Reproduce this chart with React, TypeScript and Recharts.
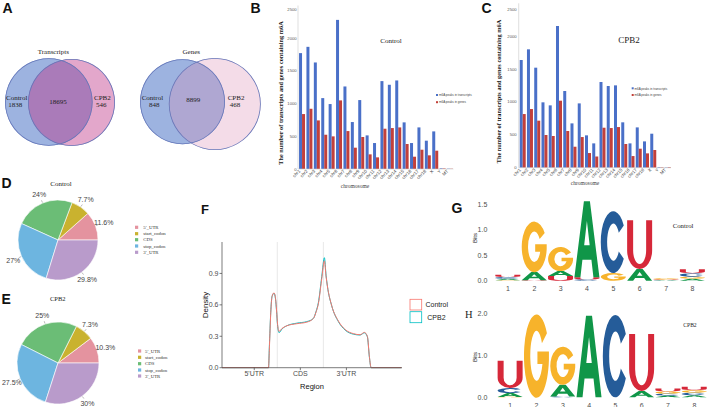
import React from "react";
import {
  Bar,
  BarChart,
  Cell,
  Line,
  LineChart,
  Pie,
  PieChart,
  ReferenceLine,
  XAxis,
  YAxis,
} from "recharts";

const SERIF = "'Liberation Serif','Times New Roman',serif";
const SANS = "'Liberation Sans',Arial,sans-serif";

// --- A: venn counts (control only, shared, CPB2 only)
const transcriptCounts = [1838, 18695, 546];
const geneCounts = [848, 8899, 468];

// --- B / C: m6A peaks per chromosome
const chromosomes = [
  "chr1", "chr2", "chr3", "chr4", "chr5", "chr6", "chr7", "chr8", "chr9", "chr10",
  "chr11", "chr12", "chr13", "chr14", "chr15", "chr16", "chr17", "chr18", "X", "Y", "MT",
];
const controlTranscripts = [1772, 1868, 1629, 1084, 993, 2280, 1262, 718, 1054, 514, 397, 1344, 1288, 1354, 713, 397, 636, 433, 575, 10, 5];
const controlGenes = [840, 921, 743, 524, 499, 1049, 580, 326, 489, 224, 178, 616, 626, 636, 382, 188, 295, 209, 280, 8, 4];
const cpb2Transcripts = [1638, 1800, 1521, 994, 948, 2155, 1166, 674, 978, 492, 370, 1303, 1242, 1252, 690, 370, 613, 400, 517, 10, 6];
const cpb2Genes = [816, 892, 715, 497, 482, 1019, 558, 319, 466, 223, 172, 608, 603, 618, 360, 177, 289, 218, 269, 8, 10];
const peakTicks = [0, 500, 1000, 1500, 2000, 2500];

// --- D / E: peak distribution over transcript regions (%)
const regions = ["5'_UTR", "start_codon", "CDS", "stop_codon", "3'_UTR"];
const regionColors = ["#E4939F", "#C9B22F", "#6BBD76", "#6DB5E0", "#B99BCB"];
const controlRegionPct = [11.6, 7.7, 24, 27, 29.8];
const cpb2RegionPct = [10.3, 7.3, 25, 27.5, 30];

// --- F: metagene density
const metaX = [-0.2, 0.81, 0.827, 0.858, 0.886, 0.929, 0.962, 0.984, 1.005, 1.038, 1.103, 1.205, 1.422, 1.64, 1.783, 1.84, 1.891, 1.965, 2.022, 2.059, 2.087, 2.182, 2.326, 2.471, 2.652, 2.797, 2.89, 2.955, 2.999, 3.036, 3.7];
const controlDensity = [0, 0, 0.17, 0.52, 0.68, 0.715, 0.66, 0.55, 0.42, 0.347, 0.375, 0.4, 0.42, 0.435, 0.47, 0.53, 0.61, 0.85, 1.02, 0.87, 0.78, 0.59, 0.445, 0.365, 0.325, 0.315, 0.337, 0.3, 0.106, 0, 0];
const cpb2Density = [0, 0, 0.19, 0.53, 0.68, 0.71, 0.655, 0.54, 0.41, 0.335, 0.37, 0.4, 0.425, 0.44, 0.47, 0.535, 0.62, 0.87, 1.05, 0.88, 0.78, 0.59, 0.44, 0.36, 0.32, 0.312, 0.333, 0.295, 0.1, 0, 0];
const regionTicks = [0.5, 1.5, 2.5];
const regionTickLabels = ["5'UTR", "CDS", "3'UTR"];
const densityTicks = [0, 0.3, 0.6, 0.9];

// --- G / H: motif logos (bits per letter)
const logoPositions = ["1", "2", "3", "4", "5", "6", "7", "8"];
const controlA = [0.03, 0.16, 0.1, 1.49, 0, 0.23, 0.01, 0.04];
const controlC = [0.03, 0, 0, 0.026, 1.21, 0, 0.005, 0.065];
const controlG = [0.01, 0.99, 0.47, 0, 0.15, 0, 0.025, 0.04];
const controlU = [0.045, 0.01, 0.09, 0.04, 0, 0.95, 0.01, 0.08];
const cpb2A = [0.09, 0, 0.28, 1.94, 0, 0.15, 0.04, 0.05];
const cpb2C = [0.12, 0, 0.02, 0, 1.96, 0, 0.05, 0.06];
const cpb2G = [0.01, 1.98, 0.91, 0, 0, 0, 0.05, 0.06];
const cpb2U = [0.65, 0, 0, 0, 0, 1.36, 0.07, 0.08];

const BLUE = "#4A70C8";
const RED = "#C2403B";
const CTRL_COL = "#F8766D";
const CPB2_COL = "#00BFC4";
const LOGO_COLORS: Record<string, string> = { A: "#109648", C: "#255C99", G: "#F7B32B", U: "#D62839" };

// letter outlines in a 100x100 box, stretched into each stacked bar
const GLYPHS: Record<string, string> = {
  A: "M0,100 L38,0 L62,0 L100,100 L76,100 L68,77 L32,77 L24,100 Z M39,58 L61,58 L50,26 Z",
  C: "M92,23 A50,50 0 1 0 92,77 L72,65 A25,30 0 1 1 72,35 Z",
  G: "M92,23 A50,50 0 1 0 100,55 L100,45 L54,45 L54,60 L74,60 A25,30 0 1 1 72,35 Z",
  U: "M0,0 L24,0 L24,62 A26,28 0 0 0 76,62 L76,0 L100,0 L100,62 A50,38 0 0 1 0,62 Z",
};

function T({ x, y, s, f = SERIF, a = "start", c = "#222", w = "normal", rot, children }: any) {
  return (
    <text
      x={x}
      y={y}
      fontSize={s}
      fontFamily={f}
      textAnchor={a}
      fill={c}
      fontWeight={w}
      transform={rot != null ? `rotate(${rot} ${x} ${y})` : undefined}
    >
      {children}
    </text>
  );
}

function Venn() {
  const fills = [
    { cx: 48.8, cy: 102, r: 43.8, v: transcriptCounts[0] + transcriptCounts[1], fill: "#9DB3E0", op: 1 },
    { cx: 71.5, cy: 102.5, r: 43.5, v: transcriptCounts[1] + transcriptCounts[2], fill: "#BC2D83", op: 0.42 },
    { cx: 182.5, cy: 101.8, r: 42.5, v: geneCounts[0] + geneCounts[1], fill: "#9DB3E0", op: 1 },
    { cx: 214.8, cy: 104, r: 46, v: geneCounts[1] + geneCounts[2], fill: "#DA8AB2", op: 0.3 },
  ];
  return (
    <PieChart width={270} height={160} margin={{ top: 0, right: 0, bottom: 0, left: 0 }}>
      {fills.map((c, i) => (
        <Pie key={`f${i}`} data={[{ value: c.v }]} dataKey="value" cx={c.cx} cy={c.cy} outerRadius={c.r}
          startAngle={90} endAngle={450} stroke="none" isAnimationActive={false}>
          <Cell fill={c.fill} fillOpacity={c.op} stroke="none" />
        </Pie>
      ))}
      {fills.map((c, i) => (
        <Pie key={`o${i}`} data={[{ value: c.v }]} dataKey="value" cx={c.cx} cy={c.cy} outerRadius={c.r}
          innerRadius={c.r - 0.8} startAngle={90} endAngle={450} stroke="none" isAnimationActive={false}>
          <Cell fill="#6577B9" stroke="none" />
        </Pie>
      ))}
    </PieChart>
  );
}

function ChromChart({ tx, genes, width, margin, tickGap }: any) {
  const rows = chromosomes.map((chr, i) => ({ chr, tx: tx[i], gene: genes[i] }));
  return (
    <BarChart width={width} height={200} data={rows} margin={margin} barCategoryGap="14%" barGap={0}>
      <XAxis
        dataKey="chr"
        interval={0}
        height={20}
        tickSize={0}
        tickMargin={0}
        tickLine={false}
        axisLine={{ stroke: "#c9c9c9", strokeWidth: 0.6 }}
        tick={(p: any) => (
          <text x={p.x - 1} y={p.y + 2.5} transform={`rotate(-45 ${p.x - 1} ${p.y + 2.5})`}
            textAnchor="end" fontSize={4.5} fontFamily={SANS} fill="#404040">
            {p.payload.value}
          </text>
        )}
      />
      <YAxis
        width={10}
        domain={[0, 2500]}
        ticks={peakTicks}
        tickSize={0}
        tickMargin={0}
        tickLine={false}
        axisLine={{ stroke: "#c9c9c9", strokeWidth: 0.6 }}
        tick={(p: any) => (
          <text x={p.x - tickGap} y={p.y + 1.5} textAnchor="end" fontSize={4.2} fontFamily={SANS} fill="#595959">
            {p.payload.value}
          </text>
        )}
      />
      <Bar dataKey="tx" fill={BLUE} isAnimationActive={false} />
      <Bar dataKey="gene" fill={RED} isAnimationActive={false} />
    </BarChart>
  );
}

function RegionPie({ pct, cy, r }: any) {
  const rows = regions.map((name, i) => ({ name, value: pct[i] }));
  const RAD = Math.PI / 180;
  const label = (p: any) => {
    const cos = Math.cos(-p.midAngle * RAD);
    const sin = Math.sin(-p.midAngle * RAD);
    const rr = p.outerRadius;
    return (
      <g>
        <line x1={p.cx + (rr + 0.5) * cos} y1={p.cy + (rr + 0.5) * sin} x2={p.cx + (rr + 3) * cos} y2={p.cy + (rr + 3) * sin}
          stroke="#777" strokeWidth={0.5} />
        <text x={p.cx + (rr + 9) * cos} y={p.cy + (rr + 9) * sin + 2.5} textAnchor="middle" fontSize={7}
          fontFamily={SANS} fill="#444">
          {`${p.value}%`}
        </text>
      </g>
    );
  };
  return (
    <PieChart width={130} height={110} margin={{ top: 0, right: 0, bottom: 0, left: 0 }}>
      <Pie data={rows} dataKey="value" cx={58} cy={cy} outerRadius={r} startAngle={0} endAngle={360}
        stroke="#fff" strokeWidth={0.6} label={label} labelLine={false} isAnimationActive={false}>
        {rows.map((d, i) => (
          <Cell key={d.name} fill={regionColors[i]} />
        ))}
      </Pie>
    </PieChart>
  );
}

function DensityChart() {
  const rows = metaX.map((x, i) => ({ x, ctrl: controlDensity[i], cpb2: cpb2Density[i] }));
  return (
    <LineChart width={260} height={200} data={rows} margin={{ top: 42, right: 38.3, bottom: 12.3, left: 22 }}>
      <ReferenceLine x={1} stroke="#e2e2e2" strokeWidth={0.8} />
      <ReferenceLine x={2} stroke="#e2e2e2" strokeWidth={0.8} />
      <XAxis
        type="number"
        dataKey="x"
        domain={[-0.2, 3.7]}
        ticks={regionTicks}
        height={20}
        tickSize={2.5}
        tickMargin={0}
        axisLine={{ stroke: "#444", strokeWidth: 0.7 }}
        tickLine={{ stroke: "#444", strokeWidth: 0.7 }}
        tick={(p: any) => (
          <text x={p.x} y={p.y + 5.6} textAnchor="middle" fontSize={7} fontFamily={SANS} fill="#4d4d4d">
            {regionTickLabels[regionTicks.indexOf(p.payload.value)]}
          </text>
        )}
      />
      <YAxis
        width={20}
        domain={[0, 1.2]}
        ticks={densityTicks}
        tickSize={2.5}
        tickMargin={0}
        axisLine={{ stroke: "#444", strokeWidth: 0.7 }}
        tickLine={{ stroke: "#444", strokeWidth: 0.7 }}
        tick={(p: any) => (
          <text x={p.x - 1} y={p.y + 2.5} textAnchor="end" fontSize={7} fontFamily={SANS} fill="#4d4d4d">
            {Number(p.payload.value).toFixed(1)}
          </text>
        )}
      />
      <Line type="monotone" dataKey="cpb2" stroke={CPB2_COL} strokeWidth={1} dot={false} isAnimationActive={false} />
      <Line type="monotone" dataKey="ctrl" stroke={CTRL_COL} strokeWidth={1} dot={false} isAnimationActive={false} />
    </LineChart>
  );
}

function buildLogoRows(a: number[], c: number[], g: number[], u: number[]) {
  return logoPositions.map((pos, i) => {
    const stack: [string, number][] = [["A", a[i]], ["C", c[i]], ["G", g[i]], ["U", u[i]]];
    stack.sort((p, q) => p[1] - q[1]);
    const row: any = { pos };
    stack.forEach(([l, h], k) => {
      row[`h${k}`] = h;
      row[`l${k}`] = l;
    });
    return row;
  });
}

function letterShape(k: number) {
  return (p: any) => {
    const { x, y, width, height, payload } = p;
    if (!height || height < 0.2) return <g />;
    const letter = payload[`l${k}`];
    return (
      <path d={GLYPHS[letter]} transform={`translate(${x},${y}) scale(${width / 100},${height / 100})`}
        fill={LOGO_COLORS[letter]} fillRule="evenodd" />
    );
  };
}

function SeqLogo({ rows, height, margin, domain, ticks, xH, yGap, xDy }: any) {
  return (
    <BarChart width={238} height={height} data={rows} margin={margin} barCategoryGap="2%">
      <XAxis
        dataKey="pos"
        interval={0}
        height={xH}
        tickSize={0}
        tickMargin={0}
        axisLine={false}
        tickLine={false}
        tick={(p: any) => (
          <text x={p.x} y={p.y + xDy} textAnchor="middle" fontSize={7} fontFamily={SANS} fill="#4d4d4d">
            {p.payload.value}
          </text>
        )}
      />
      <YAxis
        width={24}
        domain={domain}
        ticks={ticks}
        tickSize={0}
        tickMargin={0}
        axisLine={false}
        tickLine={false}
        tick={(p: any) => (
          <text x={p.x - yGap} y={p.y + 2.5} textAnchor="end" fontSize={7} fontFamily={SANS} fill="#4d4d4d">
            {Number(p.payload.value).toFixed(1)}
          </text>
        )}
      />
      {[0, 1, 2, 3].map((k) => (
        <Bar key={k} dataKey={`h${k}`} stackId="s" shape={letterShape(k)} isAnimationActive={false} />
      ))}
    </BarChart>
  );
}

const abs = (left: number, top: number): React.CSSProperties => ({ position: "absolute", left, top });

export default function App() {
  const dLegendY = [227.3, 233.7, 239.7, 246, 252.3];
  const eLegendY = [351, 357.3, 363.7, 370, 376];
  return (
    <div style={{ position: "relative", width: 708, height: 407, overflow: "hidden", background: "#fff" }}>
      <style>{"body{margin:0}"}</style>

      <div style={abs(0, 0)}><Venn /></div>
      <div style={abs(230, 0)}>
        <ChromChart tx={controlTranscripts} genes={controlGenes} width={240}
          margin={{ top: 5.5, right: 16.6, bottom: 11, left: 58 }} tickGap={1.3} />
      </div>
      <div style={abs(470, 0)}>
        <ChromChart tx={cpb2Transcripts} genes={cpb2Genes} width={238}
          margin={{ top: 3.3, right: 37, bottom: 12.3, left: 38.7 }} tickGap={2} />
      </div>
      <div style={abs(0, 185)}><RegionPie pct={controlRegionPct} cy={55} r={40} /></div>
      <div style={abs(0, 308)}><RegionPie pct={cpb2RegionPct} cy={55} r={41} /></div>
      <div style={abs(180, 200)}><DensityChart /></div>
      <div style={abs(470, 190)}>
        <SeqLogo rows={buildLogoRows(controlA, controlC, controlG, controlU)} height={110}
          margin={{ top: 8.9, right: 2.3, bottom: 7.3, left: 0.8 }} domain={[0, 1.6]} ticks={[0, 0.5, 1, 1.5]}
          xH={12} yGap={7.5} xDy={10.5} />
      </div>
      <div style={abs(470, 300)}>
        <SeqLogo rows={buildLogoRows(cpb2A, cpb2C, cpb2G, cpb2U)} height={107}
          margin={{ top: 13.3, right: 0.5, bottom: 0.7, left: 3.1 }} domain={[0, 2]} ticks={[0, 0.5, 1, 1.5, 2]}
          xH={9} yGap={9.8} xDy={10.2} />
      </div>

      <svg width={708} height={407} style={{ position: "absolute", left: 0, top: 0, pointerEvents: "none" }}>
        {/* panel letters */}
        <T x={2.5} y={13} s={14} f={SANS} w="bold" c="#111">A</T>
        <T x={250.5} y={13} s={14} f={SANS} w="bold" c="#111">B</T>
        <T x={481.5} y={13.3} s={14} f={SANS} w="bold" c="#111">C</T>
        <T x={1.5} y={188.3} s={14} f={SANS} w="bold" c="#111">D</T>
        <T x={1.5} y={304} s={14} f={SANS} w="bold" c="#111">E</T>
        <T x={201} y={213.5} s={13} f={SANS} w="bold" c="#111">F</T>
        <T x={451.5} y={212.7} s={14} f={SANS} w="bold" c="#111">G</T>
        <T x={465} y={317.7} s={10.5} c="#222">H</T>

        {/* A */}
        <T x={53.3} y={54.3} s={7} a="middle">Transcripts</T>
        <T x={191.3} y={54.3} s={7} a="middle">Genes</T>
        <T x={6} y={100} s={7}>Control</T>
        <T x={8.3} y={106.7} s={7}>{transcriptCounts[0]}</T>
        <T x={58} y={104.4} s={7} a="middle">{transcriptCounts[1]}</T>
        <T x={94} y={100} s={7}>CPB2</T>
        <T x={96} y={106.7} s={7}>{transcriptCounts[2]}</T>
        <T x={141.7} y={100} s={7}>Control</T>
        <T x={149} y={106.7} s={7}>{geneCounts[0]}</T>
        <T x={193.2} y={101.8} s={7} a="middle">{geneCounts[1]}</T>
        <T x={227.7} y={100} s={7}>CPB2</T>
        <T x={229.7} y={106.7} s={7}>{geneCounts[2]}</T>

        {/* B / C */}
        <T x={391} y={43.3} s={7.1} a="middle">Control</T>
        <T x={629} y={43.3} s={9} a="middle">CPB2</T>
        <T x={283} y={93} s={6.3} a="middle" w="bold" c="#111" rot={-90}>The number of transcripts and genes containing m6A</T>
        <T x={501} y={91.5} s={6.3} a="middle" w="bold" c="#111" rot={-90}>The number of transcripts and genes containing m6A</T>
        <T x={355} y={187.5} s={5.5} a="middle" c="#404040">chromosome</T>
        <T x={585} y={185} s={5.5} a="middle" c="#404040">chromosome</T>
        <rect x={436} y={94} width={2} height={2} fill={BLUE} />
        <T x={439} y={96.2} s={3} f={SANS} c="#404040">m6A peaks in transcripts</T>
        <rect x={436} y={101.2} width={2} height={2} fill={RED} />
        <T x={439} y={103.4} s={3} f={SANS} c="#404040">m6A peaks in genes</T>
        <rect x={631.7} y={87.3} width={2} height={2} fill={BLUE} />
        <T x={634.5} y={89.5} s={3} f={SANS} c="#404040">m6A peaks in transcripts</T>
        <rect x={631.7} y={94} width={2} height={2} fill={RED} />
        <T x={634.5} y={96.2} s={3} f={SANS} c="#404040">m6A peaks in genes</T>

        {/* D / E */}
        <T x={61} y={185.7} s={7} a="middle">Control</T>
        <T x={57.8} y={300.7} s={6.5} a="middle">CPB2</T>
        {regions.map((r, i) => (
          <g key={`d${r}`}>
            <rect x={135} y={dLegendY[i] - 1.6} width={3.2} height={3.2} fill={regionColors[i]} />
            <T x={143.3} y={dLegendY[i] + 1.6} s={4.8} c="#333">{r}</T>
          </g>
        ))}
        {regions.map((r, i) => (
          <g key={`e${r}`}>
            <rect x={138} y={eLegendY[i] - 1.6} width={3.2} height={3.2} fill={regionColors[i]} />
            <T x={145} y={eLegendY[i] + 1.6} s={4.8} c="#333">{r}</T>
          </g>
        ))}

        {/* F */}
        <T x={207.6} y={305} s={8} f={SANS} a="middle" c="#111" rot={-90}>Density</T>
        <T x={312} y={388.7} s={7.5} f={SANS} a="middle" c="#111">Region</T>
        <rect x={410} y={299.3} width={11.7} height={10.7} fill="#fff" stroke={CTRL_COL} strokeWidth={0.8} />
        <rect x={410} y={311.7} width={11.7} height={11} fill="#fff" stroke={CPB2_COL} strokeWidth={0.8} />
        <T x={436.8} y={306.8} s={7} f={SANS} a="middle" c="#222">Control</T>
        <T x={436.4} y={319.5} s={7} f={SANS} a="middle" c="#222">CPB2</T>

        {/* G / H */}
        <T x={477.3} y={238} s={6} f={SANS} a="middle" c="#222" rot={-90}>Bits</T>
        <T x={477.3} y={357} s={6} f={SANS} a="middle" c="#222" rot={-90}>Bits</T>
        <T x={672.7} y={227.7} s={6.8}>Control</T>
        <T x={683.3} y={326.7} s={5.6}>CPB2</T>
      </svg>
    </div>
  );
}
